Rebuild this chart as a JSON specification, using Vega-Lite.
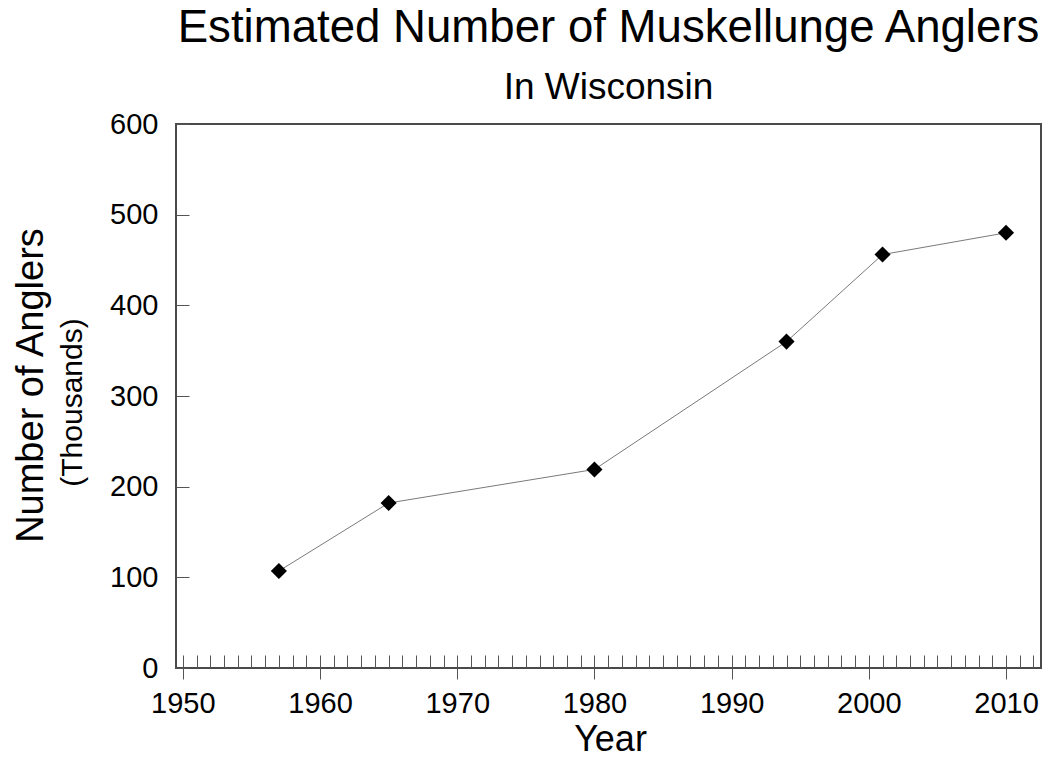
{
  "$schema": "https://vega.github.io/schema/vega-lite/v6.json",
  "width": 865,
  "height": 544,
  "autosize": {"type": "none"},
  "padding": {"left": 176, "top": 124, "right": 4, "bottom": 91},
  "background": "white",
  "config": {
    "font": "Liberation Sans",
    "view": {"stroke": "#4a4a4a", "strokeWidth": 2},
    "axis": {
      "domain": false,
      "grid": false,
      "labelColor": "black",
      "titleColor": "black",
      "tickColor": "#555555",
      "tickWidth": 1,
      "labelFont": "Liberation Sans",
      "titleFont": "Liberation Sans",
      "titleFontWeight": "normal"
    }
  },
  "title": {
    "text": "Estimated Number of Muskellunge Anglers",
    "subtitle": "In Wisconsin",
    "fontSize": 45.6,
    "subtitleFontSize": 37,
    "fontWeight": "normal",
    "color": "black",
    "subtitleColor": "black",
    "anchor": "middle",
    "offset": 4,
    "subtitlePadding": 18,
    "font": "Liberation Sans",
    "subtitleFont": "Liberation Sans"
  },
  "data": {
    "values": [
      {"year": 1957, "anglers": 107},
      {"year": 1965, "anglers": 182},
      {"year": 1980, "anglers": 219},
      {"year": 1994, "anglers": 360},
      {"year": 2001, "anglers": 456},
      {"year": 2010, "anglers": 480}
    ]
  },
  "layer": [
    {
      "mark": {"type": "line", "color": "#7a7a7a", "strokeWidth": 1},
      "encoding": {
        "x": {
          "field": "year",
          "type": "quantitative",
          "scale": {"domain": [1949.5, 2012.55], "nice": false, "zero": false},
          "axis": {
            "orient": "bottom",
            "values": [1950,1951,1952,1953,1954,1955,1956,1957,1958,1959,1960,1961,1962,1963,1964,1965,1966,1967,1968,1969,1970,1971,1972,1973,1974,1975,1976,1977,1978,1979,1980,1981,1982,1983,1984,1985,1986,1987,1988,1989,1990,1991,1992,1993,1994,1995,1996,1997,1998,1999,2000,2001,2002,2003,2004,2005,2006,2007,2008,2009,2010,2011,2012],
            "labels": false,
            "tickSize": -13,
            "title": null
          }
        },
        "y": {
          "field": "anglers",
          "type": "quantitative",
          "scale": {"domain": [0, 600], "nice": false},
          "axis": {
            "orient": "left",
            "labels": false,
            "ticks": false,
            "title": "Number of Anglers",
            "titleFontSize": 38,
            "titleX": -134,
            "titleY": 261,
            "titleAlign": "center",
            "titleBaseline": "alphabetic",
            "titleAngle": -90
          }
        }
      }
    },
    {
      "mark": {"type": "point", "shape": "diamond", "filled": true, "color": "black", "size": 260, "opacity": 1},
      "encoding": {
        "x": {
          "field": "year",
          "type": "quantitative",
          "scale": {"domain": [1949.5, 2012.55], "nice": false, "zero": false},
          "axis": {
            "orient": "bottom",
            "values": [1950, 1960, 1970, 1980, 1990, 2000, 2010],
            "format": "d",
            "tickSize": 11,
            "labelFontSize": 29,
            "labelPadding": 10,
            "title": "Year",
            "titleFontSize": 36,
            "titleX": 434,
            "titleY": 82,
            "titleAlign": "center",
            "titleBaseline": "alphabetic"
          }
        },
        "y": {
          "field": "anglers",
          "type": "quantitative",
          "scale": {"domain": [0, 600], "nice": false},
          "axis": {
            "orient": "left",
            "values": [0, 100, 200, 300, 400, 500, 600],
            "tickSize": -13,
            "labelFontSize": 29,
            "labelPadding": 31,
            "title": "(Thousands)",
            "titleFontSize": 30,
            "titleX": -95,
            "titleY": 278,
            "titleAlign": "center",
            "titleBaseline": "alphabetic",
            "titleAngle": -90
          }
        }
      }
    }
  ],
  "resolve": {"axis": {"x": "independent", "y": "independent"}}
}
